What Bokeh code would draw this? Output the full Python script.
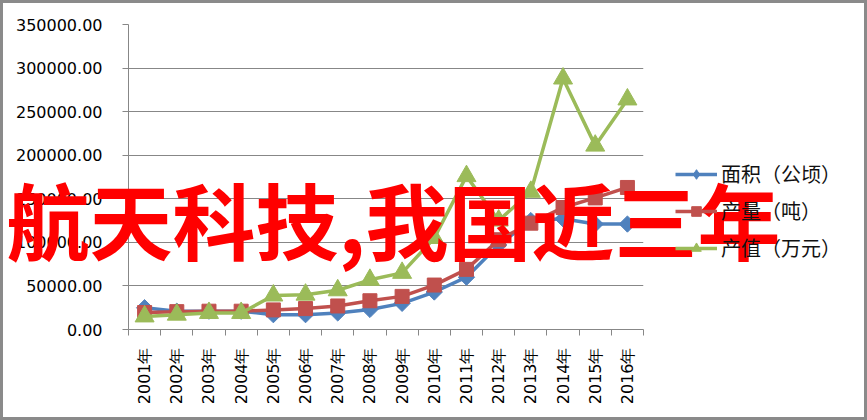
import math
from bokeh.plotting import figure
from bokeh.models import (FixedTicker, NumeralTickFormatter, Range1d, Legend, LegendItem, Label)
from bokeh.layouts import column
from bokeh.embed import file_html
from bokeh.resources import INLINE

years = ["2001年", "2002年", "2003年", "2004年", "2005年", "2006年", "2007年", "2008年",
         "2009年", "2010年", "2011年", "2012年", "2013年", "2014年", "2015年", "2016年"]
area = [25000, 21000, 21000, 21000, 17000, 17000, 19000, 23000,
        30000, 43000, 60000, 97000, 125000, 127000, 121000, 121000]
output = [19500, 20500, 21000, 21000, 22500, 24000, 27000, 33000,
          38000, 51000, 69000, 103000, 122000, 140000, 151000, 163000]
value_ = [15000, 17000, 19000, 19000, 39000, 40000, 45000, 57000,
          65000, 105000, 176000, 125000, 158000, 288000, 211000, 264000]
series_names = ["面积（公顷）", "产量（吨）", "产值（万元）"]
y_ticks = [0, 50000, 100000, 150000, 200000, 250000, 300000, 350000]
overlay_text = "航天科技,我国近三年"

W, H = 867, 420
xs = [i + 0.5 for i in range(len(years))]

# ---------- main chart ----------
p = figure(width=W, height=H, output_backend="svg", toolbar_location=None,
           x_range=Range1d(0, len(years)), y_range=Range1d(0, 350000),
           min_border_left=128, min_border_right=224, min_border_top=24, min_border_bottom=91)
p.outline_line_color = None
p.xgrid.grid_line_color = None
p.ygrid.grid_line_color = "#878787"
p.ygrid.grid_line_width = 1

GRAY = "#878787"
ya = p.yaxis[0]
ya.ticker = FixedTicker(ticks=y_ticks)
ya.formatter = NumeralTickFormatter(format="0.00")
ya.axis_line_color = GRAY
ya.major_tick_line_color = GRAY
ya.major_tick_out = 6
ya.major_tick_in = 0
ya.minor_tick_line_color = None
ya.major_label_standoff = 20
ya.major_label_text_font = "DejaVu Sans"
ya.major_label_text_font_size = "16px"
ya.major_label_text_color = "#000000"

xa = p.xaxis[0]
xa.ticker = FixedTicker(ticks=xs, minor_ticks=list(range(len(years) + 1)))
xa.major_label_overrides = {x: y for x, y in zip(xs, years)}
xa.axis_line_color = GRAY
xa.major_tick_line_color = None
xa.major_tick_out = 0
xa.major_tick_in = 0
xa.minor_tick_line_color = GRAY
xa.minor_tick_out = 6
xa.minor_tick_in = 0
xa.major_label_orientation = math.pi / 2
xa.major_label_standoff = 12
xa.major_label_text_font = "DejaVu Sans"
xa.major_label_text_font_size = "16px"
xa.major_label_text_color = "#000000"

colors = ["#4F81BD", "#C0504D", "#9BBB59"]
for data, col, mk in zip([area, output, value_], colors, ["diamond", "square", "triangle"]):
    p.line(xs, data, line_color=col, line_width=3.5)
    if mk == "diamond":
        p.scatter(xs, data, marker="square", angle=0.785398, size=11.5,
                  fill_color=col, line_color=col)
    elif mk == "square":
        p.scatter(xs, data, marker="square", size=14, fill_color=col, line_color=col)
    else:
        p.scatter(xs, data, marker="triangle", size=19, fill_color=col, line_color=col)

# ---------- overlay (legend + red caption + outer border) ----------
p2 = figure(width=W, height=H, output_backend="svg", toolbar_location=None,
            x_range=Range1d(0, W), y_range=Range1d(H, 0),
            x_axis_type=None, y_axis_type=None, min_border=0)
p2.grid.visible = False
p2.background_fill_alpha = 0
p2.border_fill_alpha = 0
p2.outline_line_color = "#8a8a8a"
p2.outline_line_width = 5
p2.styles = {"position": "absolute", "left": "0px", "top": "0px"}

for fig in (p, p2):
    if "frame_align" in fig.properties():
        fig.frame_align = False

items = []
nan = float("nan")
for name, col, mk, sz in zip(series_names, colors, ["diamond", "square", "triangle"], [15, 13, 13]):
    l = p2.line([nan], [nan], line_color=col, line_width=3.5)
    s = p2.scatter([nan], [nan], marker=mk, size=sz, fill_color=col, line_color=col)
    items.append(LegendItem(label=name, renderers=[l, s]))

legend = Legend(items=items, location=(675, 158), padding=0, margin=0,
                glyph_width=42, glyph_height=24, label_height=24, spacing=8,
                label_standoff=4, border_line_color=None, background_fill_alpha=0,
                label_text_font="Noto Sans CJK SC", label_text_font_size="20px",
                label_text_color="#111111")
p2.add_layout(legend, "center")

lbl = Label(x=393, y=217, text=overlay_text, text_align="center", text_baseline="middle",
            text_font="Noto Sans CJK SC", text_font_size="83px", text_font_style="bold",
            text_color="#FF0000")
p2.add_layout(lbl)

root = column(p, p2, styles={"position": "relative"})
open("out.html", "w").write(file_html(root, INLINE))
